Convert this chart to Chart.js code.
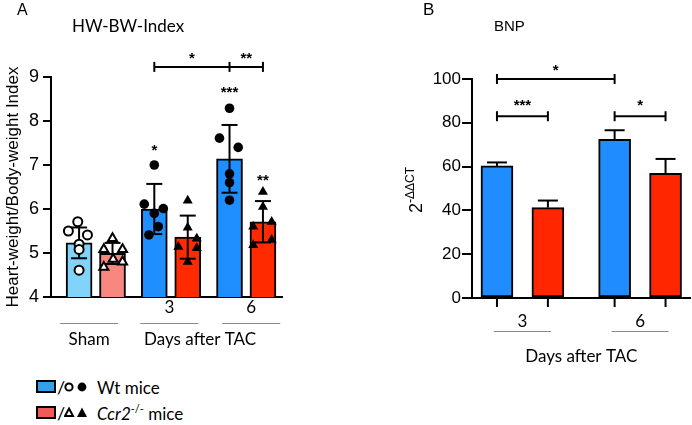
<!DOCTYPE html>
<html><head><meta charset="utf-8">
<script src="https://cdn.jsdelivr.net/npm/chart.js@4.4.1/dist/chart.umd.min.js"></script>
<style>
html,body{margin:0;padding:0;background:#fff;}
body{width:692px;height:425px;position:relative;overflow:hidden;font-family:'Liberation Sans',Arial,sans-serif;color:#000;}
canvas{position:absolute;top:0;}
#cA{left:0;}
#cB{left:380px;}
.t{position:absolute;white-space:nowrap;line-height:1;}
.lato{font-family:Lato,'Open Sans',sans-serif;}
.box{position:absolute;box-sizing:border-box;border:2px solid #000;width:20px;height:13px;}
svg{position:absolute;}
</style></head><body>
<canvas id="cA" width="300" height="370"></canvas>
<canvas id="cB" width="312" height="370"></canvas>

<div class="t" style="left:17px;top:2px;font-size:16px;">A</div>
<div class="t lato" style="left:72px;top:17px;font-size:17px;">HW-BW-Index</div>
<div class="t" style="left:423px;top:1px;font-size:17px;">B</div>
<div class="t" style="left:494px;top:18px;font-size:15px;">BNP</div>

<div class="box" style="left:36px;top:380px;background:#35a0ea;"></div>
<div class="t lato" style="left:57px;top:378px;font-size:18px;">/</div>
<svg style="left:64px;top:381px" width="24" height="12"><circle cx="5" cy="6" r="3.6" fill="#fff" stroke="#000" stroke-width="2"/><circle cx="18" cy="6" r="4.4" fill="#000"/></svg>
<div class="t lato" style="left:97px;top:379px;font-size:17px;">Wt mice</div>

<div class="box" style="left:36px;top:406px;background:#f25a5a;"></div>
<div class="t lato" style="left:57px;top:404px;font-size:18px;">/</div>
<svg style="left:64px;top:406px" width="24" height="13"><polygon points="5,2.5 9,10 1,10" fill="#fff" stroke="#000" stroke-width="2"/><polygon points="18,1.5 23,11 13,11" fill="#000"/></svg>
<div class="t lato" style="left:97px;top:405px;font-size:17px;"><i>Ccr2</i><sup style="font-size:11px;position:relative;top:-2px;vertical-align:top;">-/-</sup> mice</div>

<script>
// ---------------- Panel A data ----------------
const groupsA = ['Sham', '3', '6'];
const wtMeanA = [5.23, 6.00, 7.14];
const koMeanA = [4.99, 5.36, 5.71];
const wtSdA = [0.35, 0.57, 0.77];
const koSdA = [0.24, 0.49, 0.47];
const wtPointsA = [
  [5.71, 5.50, 5.41, 5.20, 5.08, 4.61],
  [7.00, 6.11, 6.01, 5.90, 5.60, 5.41],
  [8.29, 7.61, 7.40, 6.80, 6.60, 6.20]
];
const koPointsA = [
  [5.33, 5.08, 5.08, 4.86, 4.68, 4.80],
  [6.19, 5.58, 5.14, 5.33, 5.11, 4.80],
  [6.39, 6.05, 5.60, 5.71, 5.18, 5.30]
];
const yTicksA = [4, 5, 6, 7, 8, 9];

// ---------------- Panel B data ----------------
const groupsB = ['3', '6'];
const wtMeanB = [60.3, 72.5];
const koMeanB = [41.3, 56.9];
const wtErrB = [1.6, 4.1];
const koErrB = [3.2, 6.6];
const yTicksB = [0, 20, 40, 60, 80, 100];

// ---------------- layout (not data) ----------------
const groupPosA = [0.5, 2.75, 5.0];
const groupPosB = [0.5, 2.81];
const barHalfSep = 0.5;
const wtJitterA = [[-0.04,-0.32,0.25,0,0,0],[0,-0.3,0.27,0,0.12,-0.16],[0,-0.3,0.26,0,0,0]];
const koJitterA = [[0,-0.26,0.3,0.02,-0.26,0.3],[0,0,-0.28,0.27,0.27,0],[0,0,-0.29,0.26,-0.29,0.26]];
const groupLabelPosA = [0.3, 2.7, 5.15];
const wtColorsA = ['#82d3fa', '#1f8fff', '#1f8fff'];
const koColorsA = ['#f8877f', '#ff2a00', '#ff2a00'];
const WT = '#1f8cff', KO = '#ff2600';

Chart.defaults.font.family = "'Liberation Sans', Arial, sans-serif";
Chart.defaults.color = '#000';

function line(ctx, x1, y1, x2, y2) { ctx.beginPath(); ctx.moveTo(x1, y1); ctx.lineTo(x2, y2); ctx.stroke(); }
function bracket(ctx, x1, x2, y, h) {
  line(ctx, x1, y, x2, y); line(ctx, x1, y - h, x1, y + h); line(ctx, x2, y - h, x2, y + h);
}
function stars(ctx, txt, x, yc) {
  ctx.font = "bold 15px 'Liberation Sans', Arial";
  ctx.textAlign = 'center'; ctx.textBaseline = 'alphabetic';
  ctx.fillText(txt, x, yc + 9);
}

// ---------------- Chart A ----------------
const barDataA = [], barColA = [];
groupsA.forEach((g, i) => {
  barDataA.push({x: groupPosA[i] - barHalfSep, y: wtMeanA[i]}); barColA.push(wtColorsA[i]);
  barDataA.push({x: groupPosA[i] + barHalfSep, y: koMeanA[i]}); barColA.push(koColorsA[i]);
});
const wtX = gi => groupPosA[gi] - barHalfSep, koX = gi => groupPosA[gi] + barHalfSep;
function ptsW(gis) { return gis.flatMap(gi => wtPointsA[gi].map((v, k) => ({x: wtX(gi) + wtJitterA[gi][k], y: v}))); }
function ptsK(gis) { return gis.flatMap(gi => koPointsA[gi].map((v, k) => ({x: koX(gi) + koJitterA[gi][k], y: v}))); }

const pluginA = {
  id: 'annA',
  afterDatasetDraw(chart, args) {
    if (args.index !== 0) return;
    const {ctx, scales: {x, y}} = chart;
    ctx.save(); ctx.strokeStyle = '#000'; ctx.lineWidth = 2;
    groupsA.forEach((g, i) => {
      [[wtX(i), wtMeanA[i], wtSdA[i]], [koX(i), koMeanA[i], koSdA[i]]].forEach(([px, m, s]) => {
        const xc = x.getPixelForValue(px), yt = y.getPixelForValue(m + s), yb = y.getPixelForValue(m - s);
        line(ctx, xc, yb, xc, yt); line(ctx, xc - 8, yt, xc + 8, yt); line(ctx, xc - 8, yb, xc + 8, yb);
      });
    });
    ctx.restore();
  },
  afterDraw(chart) {
    const {ctx, scales: {x, y}, chartArea} = chart;
    ctx.save(); ctx.strokeStyle = '#000'; ctx.fillStyle = '#000'; ctx.lineWidth = 2;
    const x1 = x.getPixelForValue(wtX(1)), xm = x.getPixelForValue(wtX(2)), x2 = x.getPixelForValue(koX(2));
    const yb = y.getPixelForValue(9.23);
    bracket(ctx, x1, x2, yb, 5); line(ctx, xm, yb - 5, xm, yb + 5);
    stars(ctx, '*', (x1 + xm) / 2, yb - 13);
    stars(ctx, '**', (xm + x2) / 2, yb - 13);
    stars(ctx, '*', x.getPixelForValue(wtX(1)), y.getPixelForValue(Math.max(...wtPointsA[1])) - 19);
    stars(ctx, '***', x.getPixelForValue(wtX(2)), y.getPixelForValue(Math.max(...wtPointsA[2])) - 20);
    stars(ctx, '**', x.getPixelForValue(koX(2)), y.getPixelForValue(Math.max(...koPointsA[2])) - 16);
    const base = chartArea.bottom;
    ctx.lineWidth = 1; ctx.strokeStyle = '#888';
    groupLabelPosA.forEach(p => { const c = x.getPixelForValue(p); line(ctx, c - 29, base + 26.5, c + 29, base + 26.5); });
    ctx.font = "17px Lato, 'Open Sans', sans-serif"; ctx.textAlign = 'center'; ctx.textBaseline = 'middle';
    ctx.fillText(groupsA[1], x.getPixelForValue(groupLabelPosA[1]), base + 11);
    ctx.fillText(groupsA[2], x.getPixelForValue(groupLabelPosA[2]), base + 11);
    ctx.fillText(groupsA[0], x.getPixelForValue(groupLabelPosA[0]), base + 43);
    ctx.fillText('Days after TAC', x.getPixelForValue(3.62), base + 43);
    ctx.restore();
  }
};

new Chart(document.getElementById('cA'), {
  type: 'bar',
  data: {
    datasets: [
      {type: 'bar', data: barDataA, backgroundColor: barColA, borderColor: '#000', borderWidth: 2, borderSkipped: false, barThickness: 26, order: 5},
      {type: 'scatter', data: ptsW([0]), pointStyle: 'circle', pointRadius: 4.5, backgroundColor: '#fff', borderColor: '#000', borderWidth: 2, order: 1, clip: false},
      {type: 'scatter', data: ptsW([1, 2]), pointStyle: 'circle', pointRadius: 4.8, backgroundColor: '#000', borderColor: '#000', borderWidth: 0, order: 1, clip: false},
      {type: 'scatter', data: ptsK([0]), pointStyle: 'triangle', pointRadius: 5.2, backgroundColor: '#fff', borderColor: '#000', borderWidth: 2, order: 1, clip: false},
      {type: 'scatter', data: ptsK([1, 2]), pointStyle: 'triangle', pointRadius: 5.8, backgroundColor: '#000', borderColor: '#000', borderWidth: 0, order: 1, clip: false}
    ]
  },
  options: {
    responsive: false, animation: false, events: [],
    layout: {padding: {left: 0, top: 77, right: 18, bottom: 0}},
    plugins: {legend: {display: false}, tooltip: {enabled: false}},
    scales: {
      x: {type: 'linear', min: -0.84, max: 6.07, offset: false,
          ticks: {display: false}, grid: {display: false},
          border: {display: true, color: '#000', width: 2},
          afterFit: s => { s.height = 73; }},
      y: {type: 'linear', min: 4, max: 9,
          afterBuildTicks: s => { s.ticks = yTicksA.map(v => ({value: v})); },
          ticks: {color: '#000', font: {size: 18}, padding: 4},
          grid: {display: true, drawOnChartArea: false, drawTicks: true, tickLength: 8, color: '#000', lineWidth: 2},
          border: {display: true, color: '#000', width: 2},
          title: {display: true, text: 'Heart-weight/Body-weight Index', color: '#000', font: {size: 17}, padding: {top: 3, bottom: 0}},
          afterFit: s => { s.width = 51; }}
    }
  },
  plugins: [pluginA]
});

// ---------------- Chart B ----------------
const barDataB = [], barColB = [];
groupsB.forEach((g, i) => {
  barDataB.push({x: groupPosB[i] - barHalfSep, y: wtMeanB[i]}); barColB.push(WT);
  barDataB.push({x: groupPosB[i] + barHalfSep, y: koMeanB[i]}); barColB.push(KO);
});
const wxB = gi => groupPosB[gi] - barHalfSep, kxB = gi => groupPosB[gi] + barHalfSep;

const pluginB = {
  id: 'annB',
  beforeDatasetsDraw(chart) {
    const {ctx, scales: {x, y}} = chart;
    ctx.save(); ctx.strokeStyle = '#000'; ctx.lineWidth = 2;
    groupsB.forEach((g, i) => {
      [[wxB(i), wtMeanB[i], wtErrB[i]], [kxB(i), koMeanB[i], koErrB[i]]].forEach(([px, m, e]) => {
        const xc = x.getPixelForValue(px), yt = y.getPixelForValue(m + e), ym = y.getPixelForValue(m);
        line(ctx, xc, ym, xc, yt); line(ctx, xc - 10, yt, xc + 10, yt);
      });
    });
    ctx.restore();
  },
  afterDraw(chart) {
    const {ctx, scales: {x, y}, chartArea} = chart;
    ctx.save(); ctx.strokeStyle = '#000'; ctx.fillStyle = '#000'; ctx.lineWidth = 2;
    const base = chartArea.bottom;
    groupsB.forEach((g, i) => {
      [wxB(i), kxB(i)].forEach(p => { const c = x.getPixelForValue(p); line(ctx, c, base, c, base + 9); });
    });
    const a = x.getPixelForValue(wxB(0)), b = x.getPixelForValue(kxB(0)), c = x.getPixelForValue(wxB(1)), d = x.getPixelForValue(kxB(1));
    const yTop = y.getPixelForValue(100), yLow = y.getPixelForValue(83);
    bracket(ctx, a, c, yTop, 5); stars(ctx, '*', (a + c) / 2, yTop - 13);
    bracket(ctx, a, b, yLow, 5); stars(ctx, '***', (a + b) / 2, yLow - 15);
    bracket(ctx, c, d, yLow, 5); stars(ctx, '*', (c + d) / 2, yLow - 15);
    ctx.lineWidth = 1; ctx.strokeStyle = '#888';
    ctx.font = "17px Lato, 'Open Sans', sans-serif"; ctx.textAlign = 'center'; ctx.textBaseline = 'middle';
    groupsB.forEach((g, i) => {
      const cx = x.getPixelForValue(groupPosB[i]);
      ctx.fillText(g, cx, base + 24);
      line(ctx, cx - 28.5, base + 33.5, cx + 28.5, base + 33.5);
    });
    ctx.fillText('Days after TAC', x.getPixelForValue((groupPosB[0] + groupPosB[1]) / 2), base + 59);
    ctx.translate(35, 190); ctx.rotate(-Math.PI / 2);
    ctx.textBaseline = 'alphabetic'; ctx.textAlign = 'left';
    ctx.font = "18px 'Liberation Sans', Arial";
    const w2 = ctx.measureText('2').width;
    ctx.font = "12px 'Liberation Sans', Arial";
    const ws = ctx.measureText('-ΔΔCT').width;
    const x0 = -(w2 + ws) / 2;
    ctx.font = "18px 'Liberation Sans', Arial";
    ctx.fillText('2', x0, 7);
    ctx.font = "12px 'Liberation Sans', Arial";
    ctx.fillText('-ΔΔCT', x0 + w2, -1);
    ctx.restore();
  }
};

new Chart(document.getElementById('cB'), {
  type: 'bar',
  data: {datasets: [{data: barDataB, backgroundColor: barColB, borderColor: '#000', borderWidth: 2, borderSkipped: false, barThickness: 32}]},
  options: {
    responsive: false, animation: false, events: [],
    layout: {padding: {left: 0, top: 79, right: 2, bottom: 0}},
    plugins: {legend: {display: false}, tooltip: {enabled: false}},
    scales: {
      x: {type: 'linear', min: -0.49, max: 3.79, offset: false,
          ticks: {display: false}, grid: {display: false},
          border: {display: true, color: '#000', width: 2},
          afterFit: s => { s.height = 72; }},
      y: {type: 'linear', min: 0, max: 100,
          afterBuildTicks: s => { s.ticks = yTicksB.map(v => ({value: v})); },
          ticks: {color: '#000', font: {size: 17}, padding: 1},
          grid: {display: true, drawOnChartArea: false, drawTicks: true, tickLength: 10, color: '#000', lineWidth: 2},
          border: {display: true, color: '#000', width: 2},
          afterFit: s => { s.width = 92; }}
    }
  },
  plugins: [pluginB]
});
</script>
</body></html>
